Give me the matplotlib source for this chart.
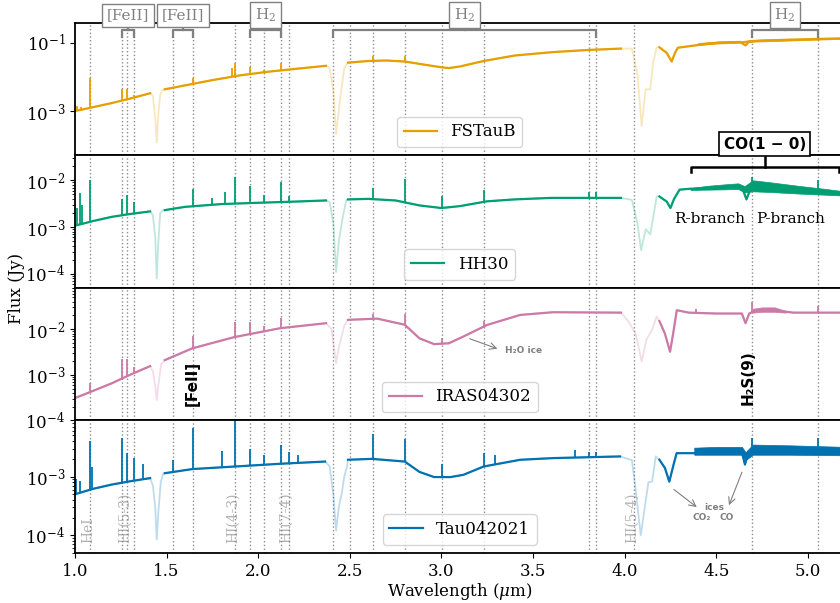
import numpy as np
import matplotlib
matplotlib.use('Agg')
import matplotlib.pyplot as plt

plt.rcParams['font.family'] = 'DejaVu Serif'
plt.rcParams['mathtext.fontset'] = 'dejavuserif'
plt.rcParams['font.size'] = 12

# detector gaps (drawn faint)
gaps = [(1.41, 1.49), (2.37, 2.49), (3.98, 4.19)]

# line positions (um) marked with dotted lines
line_waves = [1.083, 1.257, 1.282, 1.321, 1.534, 1.644, 1.875, 1.957, 2.034, 2.122, 2.166,
              2.407, 2.500, 2.626, 2.803, 3.004, 3.235, 3.807, 3.846, 4.052, 4.695, 5.053]

# ---- FSTauB ----
fs_w = [1.00, 1.04, 1.10, 1.20, 1.30, 1.41, 1.425, 1.438, 1.446, 1.455, 1.465, 1.475,
        1.49, 1.60, 1.75, 1.90, 2.05, 2.20, 2.37, 2.39, 2.41, 2.425, 2.435, 2.45, 2.47,
        2.49, 2.60, 2.70, 2.80, 2.90, 3.00, 3.04, 3.10, 3.23, 3.40, 3.61, 3.80, 3.98,
        4.04, 4.07, 4.093, 4.115, 4.14, 4.155, 4.175,
        4.19, 4.23, 4.257, 4.275, 4.29, 4.40, 4.52, 4.63, 4.66, 4.68, 4.75, 4.90, 5.05, 5.20]
fs_f = [1.0e-3, 1.1e-3, 1.3e-3, 1.7e-3, 2.3e-3, 3.3e-3, 2.8e-3, 6e-4, 1.2e-4, 8e-4, 3.0e-3, 4.0e-3,
        4.3e-3, 5.6e-3, 8.0e-3, 1.1e-2, 1.4e-2, 1.7e-2, 2.1e-2, 1.8e-2, 4e-3, 2.1e-4, 6e-4, 3e-3, 1.8e-2,
        2.6e-2, 2.9e-2, 3.0e-2, 2.8e-2, 2.3e-2, 1.9e-2, 1.8e-2, 2.0e-2, 2.9e-2, 4.2e-2, 5.3e-2, 6.1e-2, 6.7e-2,
        6.7e-2, 1.2e-2, 3.6e-4, 4.3e-3, 4.3e-3, 2.5e-2, 7.3e-2,
        7.3e-2, 5.0e-2, 2.8e-2, 5.0e-2, 7.1e-2, 8.5e-2, 1.0e-1, 1.05e-1, 8.3e-2, 1.08e-1, 1.15e-1, 1.22e-1, 1.28e-1, 1.34e-1]
fs_lw = [1.010, 1.030, 1.083, 1.257, 1.282, 1.321, 1.644, 1.857, 1.875, 1.957, 2.034, 2.122, 2.626, 2.803]
fs_lp = [1.4e-3, 1.3e-3, 9.5e-3, 4.3e-3, 4.5e-3, 3.0e-3, 9.5e-3, 1.8e-2, 2.6e-2, 1.9e-2, 1.6e-2, 2.6e-2, 4.2e-2, 4.2e-2]
fs_bw = [4.40, 4.50, 4.60, 4.64, 4.70, 4.85, 5.00, 5.20]
fs_blo = [8.6e-2, 9.4e-2, 9.8e-2, 1.0e-1, 1.07e-1, 1.13e-1, 1.20e-1, 1.30e-1]
fs_bhi = [9.8e-2, 1.08e-1, 1.12e-1, 1.12e-1, 1.22e-1, 1.26e-1, 1.30e-1, 1.38e-1]

# ---- HH30 ----
hh_w = [1.00, 1.10, 1.20, 1.30, 1.41, 1.425, 1.438, 1.446, 1.455, 1.465, 1.48,
        1.49, 1.60, 1.80, 2.00, 2.20, 2.37, 2.39, 2.41, 2.425, 2.44, 2.46, 2.48,
        2.49, 2.60, 2.75, 2.88, 3.00, 3.10, 3.25, 3.40, 3.60, 3.98,
        4.04, 4.07, 4.09, 4.115, 4.14, 4.16, 4.175,
        4.19, 4.23, 4.25, 4.27, 4.30, 4.36, 4.50, 4.64, 4.665, 4.69, 4.80, 5.00, 5.20]
hh_f = [1.07e-3, 1.35e-3, 1.65e-3, 1.9e-3, 2.16e-3, 1.8e-3, 6e-4, 8e-5, 5e-4, 2.0e-3, 2.3e-3,
        2.3e-3, 2.7e-3, 3.1e-3, 3.3e-3, 3.5e-3, 3.7e-3, 3.4e-3, 1.2e-3, 1.1e-4, 5e-4, 1.5e-3, 3.7e-3,
        3.9e-3, 4.0e-3, 3.7e-3, 2.9e-3, 2.55e-3, 2.8e-3, 3.55e-3, 3.9e-3, 4.2e-3, 4.2e-3,
        3.8e-3, 1.2e-3, 3.2e-4, 9e-4, 7e-4, 2.0e-3, 4.5e-3,
        4.5e-3, 3.5e-3, 2.55e-3, 4.0e-3, 6.3e-3, 6.6e-3, 6.8e-3, 7.2e-3, 3.9e-3, 7.0e-3, 6.6e-3, 5.6e-3, 5.0e-3]
hh_lw = [1.010, 1.027, 1.040, 1.083, 1.257, 1.282, 1.321, 1.644, 1.750, 1.820, 1.875, 1.957,
         2.034, 2.122, 2.166, 2.626, 2.803, 3.004, 3.235, 3.807, 3.846, 4.695, 5.053]
hh_lp = [2.5e-3, 5.4e-3, 3.0e-3, 1.0e-2, 4.0e-3, 4.9e-3, 3.4e-3, 6.5e-3, 4.2e-3, 5.5e-3, 1.18e-2, 7.7e-3,
         4.9e-3, 9.1e-3, 4.5e-3, 6.9e-3, 1.07e-2, 4.7e-3, 6.1e-3, 5.5e-3, 5.5e-3, 1.18e-2, 1.0e-2]
hh_bw = [4.36, 4.45, 4.55, 4.62, 4.655, 4.70, 4.80, 4.95, 5.10, 5.20]
hh_blo = [6.2e-3, 6.3e-3, 6.4e-3, 6.5e-3, 5.5e-3, 5.8e-3, 5.6e-3, 5.2e-3, 4.9e-3, 4.7e-3]
hh_bhi = [6.8e-3, 7.6e-3, 8.2e-3, 8.6e-3, 7.5e-3, 1.0e-2, 9.0e-3, 7.6e-3, 6.5e-3, 5.8e-3]

# ---- IRAS04302 ----
ir_w = [1.00, 1.083, 1.20, 1.30, 1.41, 1.425, 1.44, 1.446, 1.455, 1.47,
        1.49, 1.64, 1.87, 2.12, 2.37, 2.40, 2.425, 2.44, 2.47,
        2.49, 2.65, 2.80, 2.88, 2.96, 3.04, 3.12, 3.25, 3.43, 3.61, 3.98,
        4.02, 4.06, 4.093, 4.12, 4.15, 4.175,
        4.19, 4.22, 4.248, 4.265, 4.285, 4.35, 4.50, 4.64, 4.66, 4.68, 4.72, 4.85, 4.92, 5.20]
ir_f = [3.1e-4, 4.2e-4, 6.5e-4, 1.0e-3, 1.55e-3, 1.2e-3, 5e-4, 2.8e-4, 6e-4, 1.7e-3,
        2.1e-3, 3.8e-3, 6.7e-3, 1.05e-2, 1.35e-2, 1.0e-2, 1.8e-3, 4e-3, 1.2e-2,
        1.6e-2, 1.7e-2, 1.25e-2, 6.3e-3, 4.7e-3, 4.9e-3, 6.9e-3, 1.24e-2, 2.05e-2, 2.35e-2, 2.3e-2,
        1.5e-2, 8e-3, 1.95e-3, 6e-3, 9.7e-3, 1.9e-2,
        1.5e-2, 8e-3, 3.2e-3, 8e-3, 2.6e-2, 2.3e-2, 2.2e-2, 2.2e-2, 1.35e-2, 2.2e-2, 2.6e-2, 2.5e-2, 2.3e-2, 2.3e-2]
ir_lw = [1.083, 1.257, 1.282, 1.321, 1.644, 1.875, 1.957, 2.034, 2.122, 2.626, 2.803,
         3.004, 3.235, 4.390, 4.695, 5.053]
ir_lp = [6.7e-4, 2.2e-3, 2.2e-3, 1.5e-3, 7.1e-3, 1.47e-2, 1.4e-2, 1.15e-2, 1.8e-2, 2.2e-2, 2.2e-2,
         6.4e-3, 1.5e-2, 2.8e-2, 4.0e-2, 3.2e-2]
ir_bw = [4.70, 4.75, 4.82, 4.88]
ir_blo = [2.3e-2, 2.4e-2, 2.4e-2, 2.3e-2]
ir_bhi = [2.8e-2, 3.0e-2, 3.0e-2, 2.5e-2]

# ---- Tau042021 ----
ta_w = [1.00, 1.10, 1.20, 1.30, 1.41, 1.425, 1.438, 1.446, 1.455, 1.468, 1.48,
        1.49, 1.64, 1.87, 2.12, 2.365, 2.39, 2.41, 2.425, 2.44, 2.455, 2.47, 2.485,
        2.49, 2.62, 2.80, 2.88, 2.96, 3.05, 3.12, 3.23, 3.43, 3.61, 3.975,
        4.04, 4.06, 4.088, 4.11, 4.13, 4.15, 4.17,
        4.19, 4.22, 4.244, 4.265, 4.284, 4.38, 4.64, 4.657, 4.675, 4.70, 5.20]
ta_f = [5.0e-4, 6.2e-4, 7.3e-4, 8.3e-4, 9.4e-4, 7e-4, 3e-4, 8.5e-5, 2.5e-4, 8e-4, 1.1e-3,
        1.14e-3, 1.34e-3, 1.48e-3, 1.65e-3, 1.8e-3, 1.5e-3, 5e-4, 1.2e-4, 3e-4, 5e-4, 1.0e-3, 1.5e-3,
        1.93e-3, 2.0e-3, 1.8e-3, 1.2e-3, 9.8e-4, 9.8e-4, 1.07e-3, 1.48e-3, 1.93e-3, 2.06e-3, 2.2e-3,
        1.9e-3, 6e-4, 1e-4, 3e-4, 8e-4, 8.2e-4, 2.2e-3,
        1.93e-3, 1.4e-3, 8.2e-4, 1.5e-3, 2.5e-3, 2.5e-3, 2.6e-3, 1.6e-3, 2.6e-3, 2.9e-3, 2.8e-3]
ta_lw = [1.005, 1.027, 1.083, 1.090, 1.257, 1.282, 1.321, 1.373, 1.534, 1.644, 1.800, 1.875,
         1.957, 2.034, 2.122, 2.166, 2.216, 2.626, 2.803, 3.004, 3.235, 3.290, 3.730, 3.807,
         3.846, 4.695, 5.053]
ta_lp = [9e-4, 8.5e-4, 4.0e-3, 1.45e-3, 4.6e-3, 2.5e-3, 2.07e-3, 1.63e-3, 1.88e-3, 6.8e-3, 2.7e-3, 9e-3,
         2.9e-3, 2.3e-3, 3.5e-3, 2.6e-3, 2.3e-3, 5.2e-3, 4.4e-3, 1.65e-3, 2.5e-3, 2.3e-3, 2.8e-3, 2.6e-3,
         2.6e-3, 4.6e-3, 4.6e-3]
ta_bw = [4.38, 4.50, 4.64, 4.66, 4.70, 4.90, 5.20]
ta_blo = [2.35e-3, 2.35e-3, 2.35e-3, 1.9e-3, 2.35e-3, 2.35e-3, 2.3e-3]
ta_bhi = [3.1e-3, 3.2e-3, 3.2e-3, 2.6e-3, 3.5e-3, 3.4e-3, 3.2e-3]

names = ['FSTauB', 'HH30', 'IRAS04302', 'Tau042021']
colors = ['#E69F00', '#009E73', '#CC79A7', '#0072B2']
ylims = [(5e-5, 0.38), (5e-5, 3.4e-2), (1e-4, 8e-2), (5e-5, 9e-3)]
spectra = [(fs_w, fs_f, fs_lw, fs_lp, fs_bw, fs_blo, fs_bhi),
           (hh_w, hh_f, hh_lw, hh_lp, hh_bw, hh_blo, hh_bhi),
           (ir_w, ir_f, ir_lw, ir_lp, ir_bw, ir_blo, ir_bhi),
           (ta_w, ta_f, ta_lw, ta_lp, ta_bw, ta_blo, ta_bhi)]

# top brackets
br_labels = ['[FeII]', '[FeII]', 'H$_2$', 'H$_2$', 'H$_2$']
br_lo = [1.257, 1.534, 1.957, 2.407, 4.695]
br_hi = [1.321, 1.644, 2.122, 3.846, 5.053]

hi_labels = ['HeI', 'HI(5-3)', 'HI(4-3)', 'HI(7-4)', 'HI(5-4)']
hi_waves = [1.083, 1.282, 1.875, 2.166, 4.052]

fig = plt.figure(figsize=(8.4, 6.03), dpi=100)
h = 0.2198
bottoms = [0.0829 + 3 * h, 0.0829 + 2 * h, 0.0829 + h, 0.0829]
axes = []
for i in range(4):
    ax = fig.add_axes([0.0893, bottoms[i], 0.916, h], sharex=axes[0] if axes else None)
    axes.append(ax)

for i, ax in enumerate(axes):
    w, f, lw_, lp, bw, blo, bhi = spectra[i]
    w = np.array(w)
    f = np.array(f)
    ingap = np.zeros(len(w), bool)
    for a, b in gaps:
        ingap |= (w > a) & (w < b)
    c = colors[i]
    ax.plot(w, f, color=c, lw=1.3, alpha=0.25)
    ax.plot(w, np.where(ingap, np.nan, f), color=c, lw=1.6, label=names[i])
    base = 10 ** np.interp(lw_, w, np.log10(f))
    ax.vlines(lw_, base, lp, color=c, lw=1.3)
    ax.fill_between(bw, blo, bhi, color=c, lw=0.5)
    for lam in line_waves:
        ax.axvline(lam, color='gray', ls=':', lw=1, alpha=0.9, zorder=0)
    ax.set_yscale('log')
    ax.set_ylim(*ylims[i])
    ax.set_xlim(1.0, 5.2)
    ax.legend(loc='lower center', fontsize=12)
    for s in ax.spines.values():
        s.set_linewidth(1.3)
    ax.tick_params(labelsize=12)
    if i < 3:
        ax.tick_params(axis='x', which='both', bottom=False, labelbottom=False)

axes[0].set_yticks([1e-3, 1e-1])
axes[0].yaxis.set_minor_locator(plt.NullLocator())

# brackets above the top panel
tr = axes[0].get_xaxis_transform()
for lab, a, b in zip(br_labels, br_lo, br_hi):
    m = (a + b) / 2
    axes[0].plot([a, a, b, b], [0.895, 0.944, 0.944, 0.895], color='gray', lw=1.6, transform=tr, clip_on=False)
    axes[0].plot([m, m], [0.944, 0.975], color='gray', lw=1.6, transform=tr, clip_on=False)
    axes[0].text(m, 1.058, lab, transform=tr, ha='center', va='center', color='gray', fontsize=11,
                 bbox=dict(boxstyle='square,pad=0.3', fc='white', ec='gray', lw=1), clip_on=False)

# CO(1-0) bracket in HH30 panel
tr2 = axes[1].get_xaxis_transform()
co_lo, co_hi = 4.36, 5.17
co_m = (co_lo + co_hi) / 2
axes[1].plot([co_lo, co_lo, co_hi, co_hi], [0.875, 0.909, 0.909, 0.875], color='black', lw=1.8, transform=tr2, clip_on=False)
axes[1].plot([co_m, co_m], [0.909, 0.99], color='black', lw=1.8, transform=tr2, clip_on=False)
axes[1].text(co_m, 1.083, 'CO(1 \u2212 0)', transform=tr2, ha='center', va='center', fontsize=11,
             family='DejaVu Sans', weight='bold', zorder=10,
             bbox=dict(boxstyle='square,pad=0.3', fc='white', ec='black', lw=1.2), clip_on=False)
axes[1].text(4.466, 0.52, 'R-branch', transform=tr2, ha='center', va='center', fontsize=11)
axes[1].text(4.907, 0.52, 'P-branch', transform=tr2, ha='center', va='center', fontsize=11)

# IRAS panel labels
tr3 = axes[2].get_xaxis_transform()
axes[2].text(1.64, 0.28, '[FeII]', transform=tr3, rotation=90, ha='center', va='center',
             family='DejaVu Sans', weight='bold', fontsize=11)
axes[2].text(4.672, 0.32, 'H\u2082S(9)', transform=tr3, rotation=90, ha='center', va='center',
             family='DejaVu Sans', weight='bold', fontsize=11)
axes[2].annotate('', xy=(3.32, 0.534), xytext=(3.14, 0.624), xycoords=tr3, textcoords=tr3,
                 arrowprops=dict(arrowstyle='->', color='gray', lw=0.8))
axes[2].text(3.345, 0.529, 'H\u2082O ice', transform=tr3, ha='left', va='center', fontsize=6.5,
             family='DejaVu Sans', weight='bold', color='gray')

# Tau042021 labels
tr4 = axes[3].get_xaxis_transform()
for lab, lam in zip(hi_labels, hi_waves):
    axes[3].text(lam - 0.012, 0.075, lab, transform=tr4, rotation=90, ha='center', va='bottom',
                 color='gray', alpha=0.6, fontsize=10)
axes[3].text(4.49, 0.341, 'ices', transform=tr4, ha='center', va='center', fontsize=6.5,
             family='DejaVu Sans', weight='bold', color='gray')
axes[3].text(4.421, 0.267, 'CO\u2082', transform=tr4, ha='center', va='center', fontsize=6.5,
             family='DejaVu Sans', weight='bold', color='gray')
axes[3].text(4.557, 0.267, 'CO', transform=tr4, ha='center', va='center', fontsize=6.5,
             family='DejaVu Sans', weight='bold', color='gray')
axes[3].annotate('', xy=(4.406, 0.333), xytext=(4.257, 0.492), xycoords=tr4, textcoords=tr4,
                 arrowprops=dict(arrowstyle='->', color='gray', lw=0.8))
axes[3].annotate('', xy=(4.564, 0.341), xytext=(4.646, 0.629), xycoords=tr4, textcoords=tr4,
                 arrowprops=dict(arrowstyle='->', color='gray', lw=0.8))

axes[3].set_xlabel('Wavelength ($\\mu$m)', fontsize=12, labelpad=1)
fig.text(0.02, 0.522, 'Flux (Jy)', rotation=90, ha='center', va='center', fontsize=12)

fig.savefig('out.png', dpi=100)
